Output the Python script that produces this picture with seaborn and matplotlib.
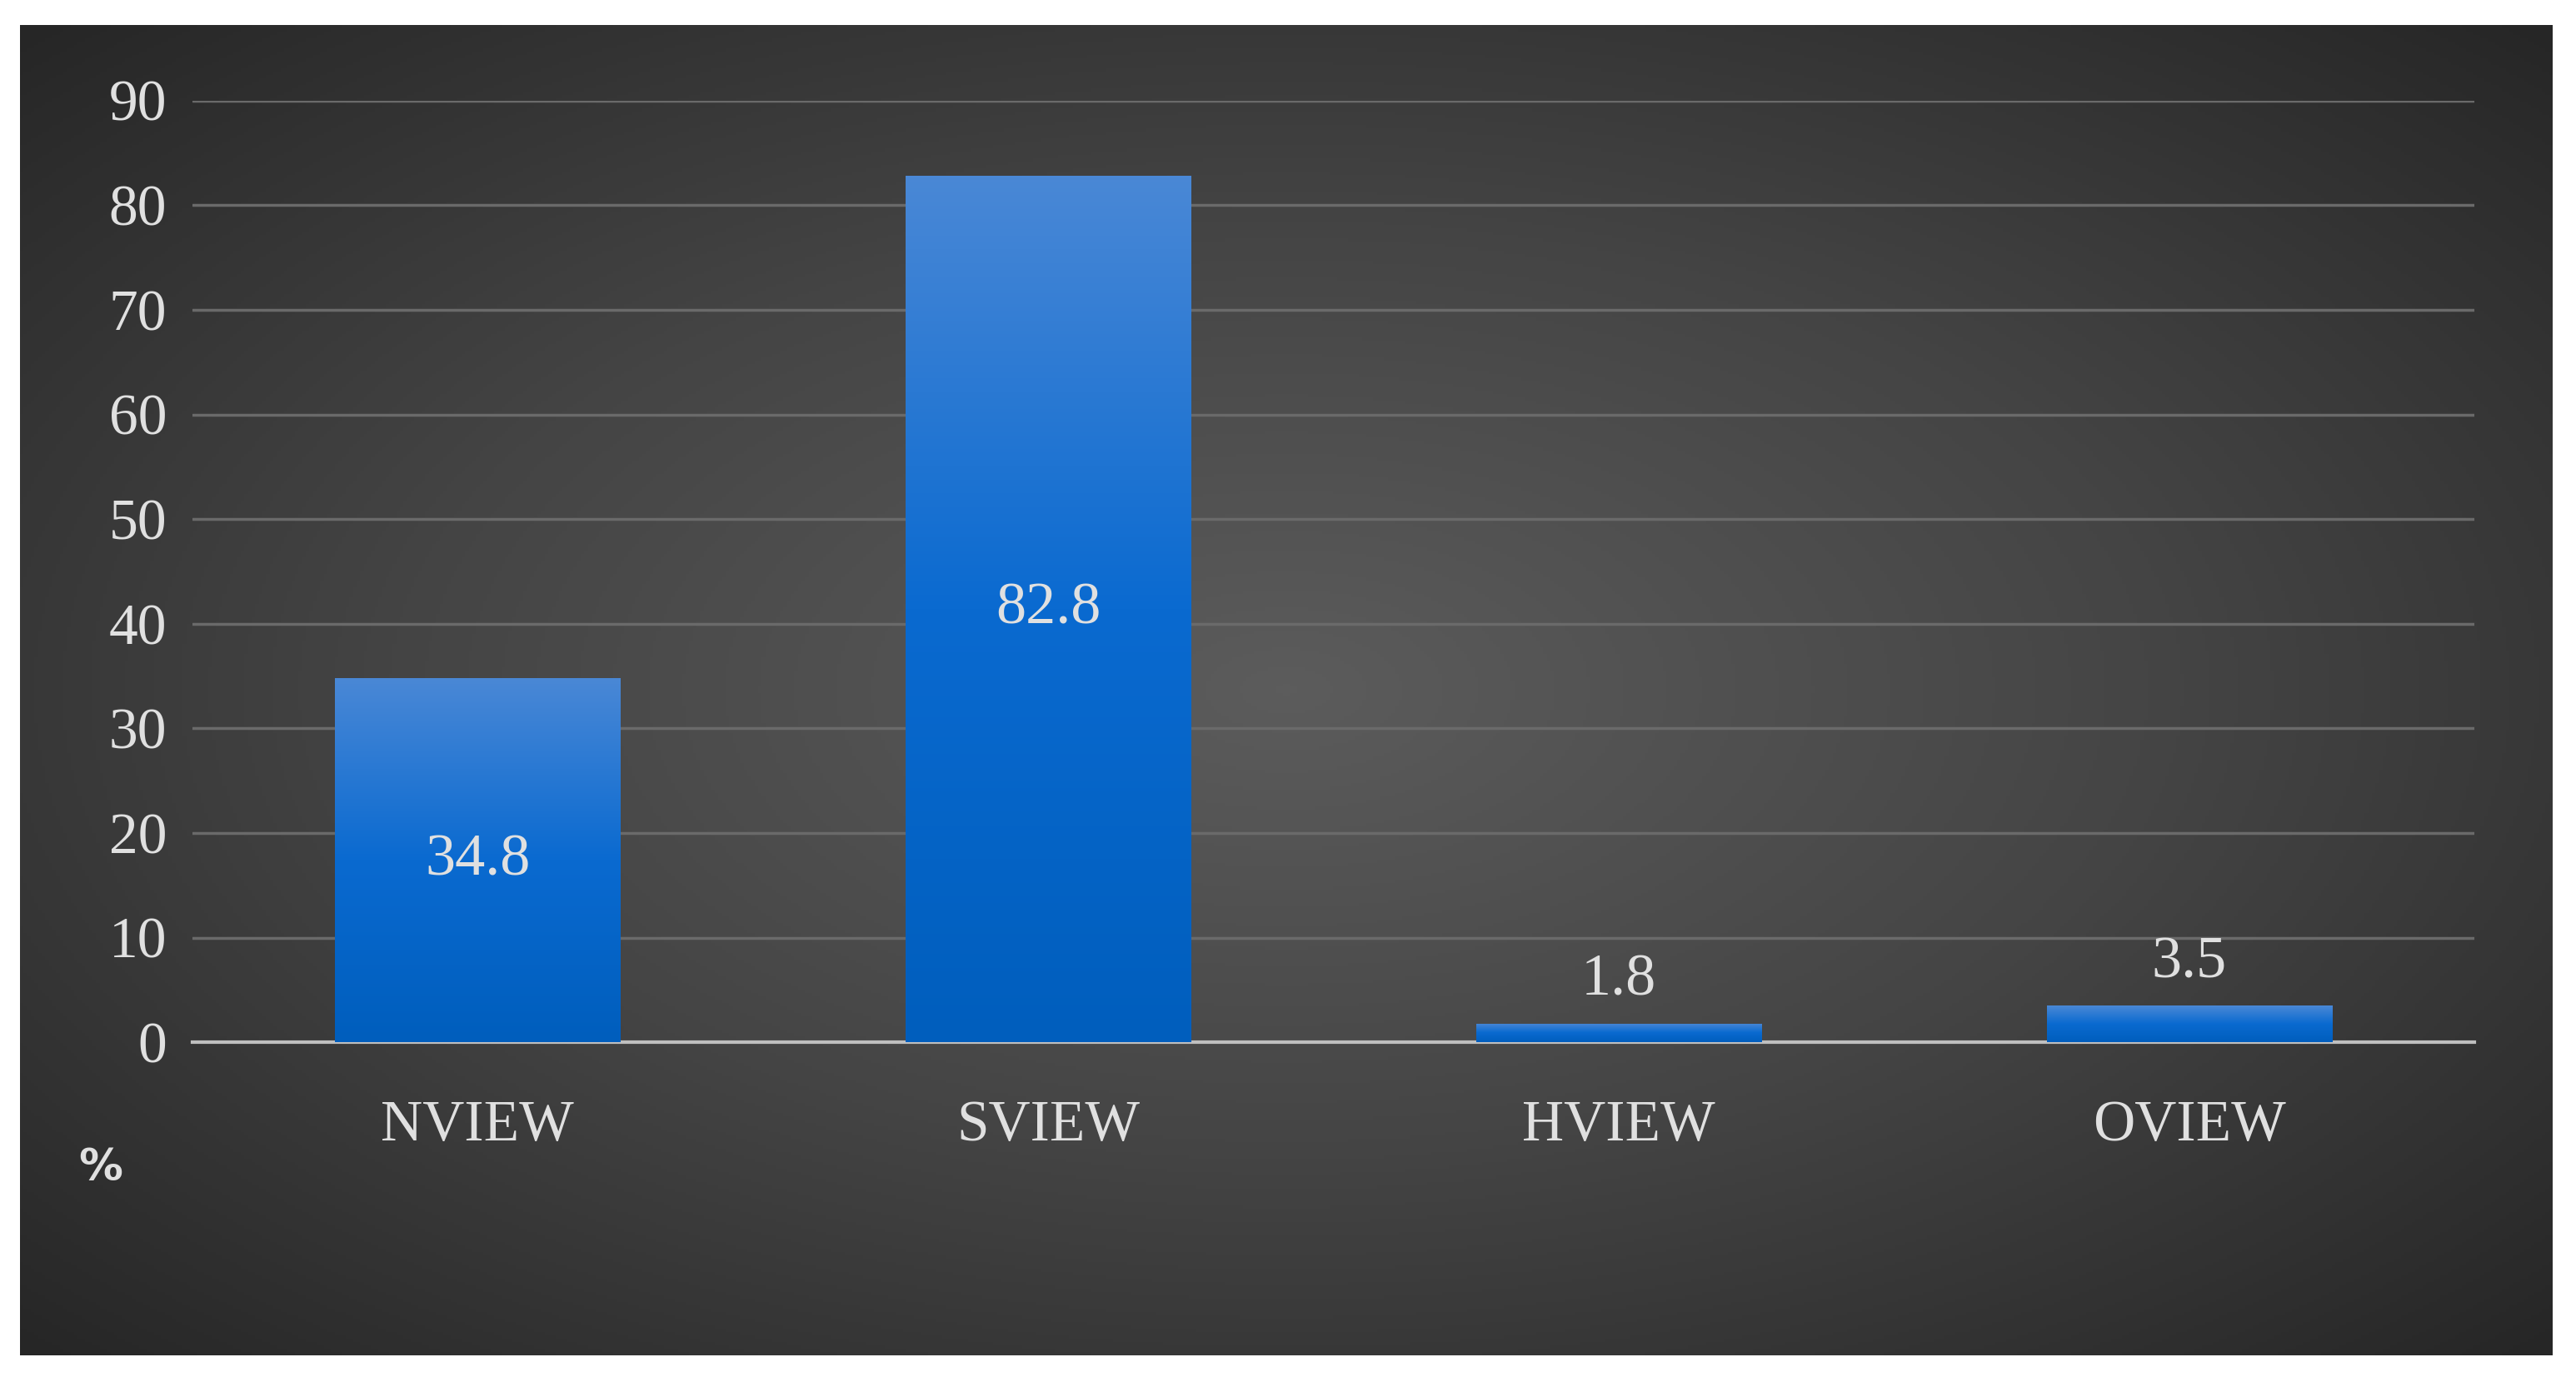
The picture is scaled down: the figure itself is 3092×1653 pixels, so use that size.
import numpy as np
import pandas as pd
import matplotlib
matplotlib.use('Agg')
import matplotlib.pyplot as plt
import seaborn as sns
from matplotlib.colors import LinearSegmentedColormap

# Dados
categorias = ['NVIEW', 'SVIEW', 'HVIEW', 'OVIEW']
valores = [34.8, 82.8, 1.8, 3.5]
df = pd.DataFrame({'cat': categorias, 'val': valores})

sns.set_style('white')
plt.rcParams['font.family'] = ['Liberation Serif', 'DejaVu Serif']
texto = '#e0e0e0'

fig = plt.figure(figsize=(30.92, 16.53), dpi=100)
fig.patch.set_facecolor('white')

# Fundo escuro com gradiente radial
bg = fig.add_axes([0.0077, 0.016, 0.983, 0.966])
yy, xx = np.mgrid[-1:1:400j, -1:1:700j]
r = np.sqrt(xx**2 + yy**2) / np.sqrt(2)
cmap_bg = LinearSegmentedColormap.from_list('bg', ['#5c5c5c', '#444444', '#262626'])
bg.imshow(r, cmap=cmap_bg, aspect='auto', extent=[0, 1, 0, 1])
bg.axis('off')

ax = fig.add_axes([0.0746, 0.243, 0.886, 0.684])
ax.patch.set_alpha(0)
sns.barplot(data=df, x='cat', y='val', ax=ax, width=0.5, color='#1a6fd0', saturation=1)
ax.set_ylim(0, 90)
ax.set_xlim(-0.5, 3.5)

# Gradiente vertical nas barras
cmap_bar = LinearSegmentedColormap.from_list('bar', ['#005ebd', '#0a6ad0', '#4a88d6'])
grad = np.linspace(0, 1, 256).reshape(-1, 1)
for p in list(ax.patches):
    x0, y0, w, h = p.get_x(), p.get_y(), p.get_width(), p.get_height()
    im = ax.imshow(grad, cmap=cmap_bar, origin='lower', aspect='auto',
                   extent=[x0, x0 + w, y0, y0 + h], zorder=3)
    im.set_clip_path(p)
    p.set_edgecolor('none')

ax.set_yticks(range(0, 91, 10))
ax.yaxis.grid(True, color='#6a6a6a', linewidth=2.5)
ax.set_axisbelow(True)
for s in ['top', 'right', 'left']:
    ax.spines[s].set_visible(False)
ax.spines['bottom'].set_color('#bfbfbf')
ax.spines['bottom'].set_linewidth(3)
ax.tick_params(axis='y', colors=texto, labelsize=50, length=0, pad=22)
ax.tick_params(axis='x', colors=texto, labelsize=50, length=0, pad=50)
ax.set_xlabel('')
ax.set_ylabel('')

for i, v in enumerate(valores):
    if v > 10:
        ax.text(i, v / 2, f'{v}', ha='center', va='center', color=texto, fontsize=52, zorder=5)
    else:
        ax.text(i, v + 1.5, f'{v}', ha='center', va='bottom', color=texto, fontsize=52, zorder=5)

fig.text(0.039, 0.152, '%', color=texto, fontsize=38, fontweight='bold', ha='center', va='center',
         family=['DejaVu Sans'])

fig.savefig('out.png', dpi=100)
